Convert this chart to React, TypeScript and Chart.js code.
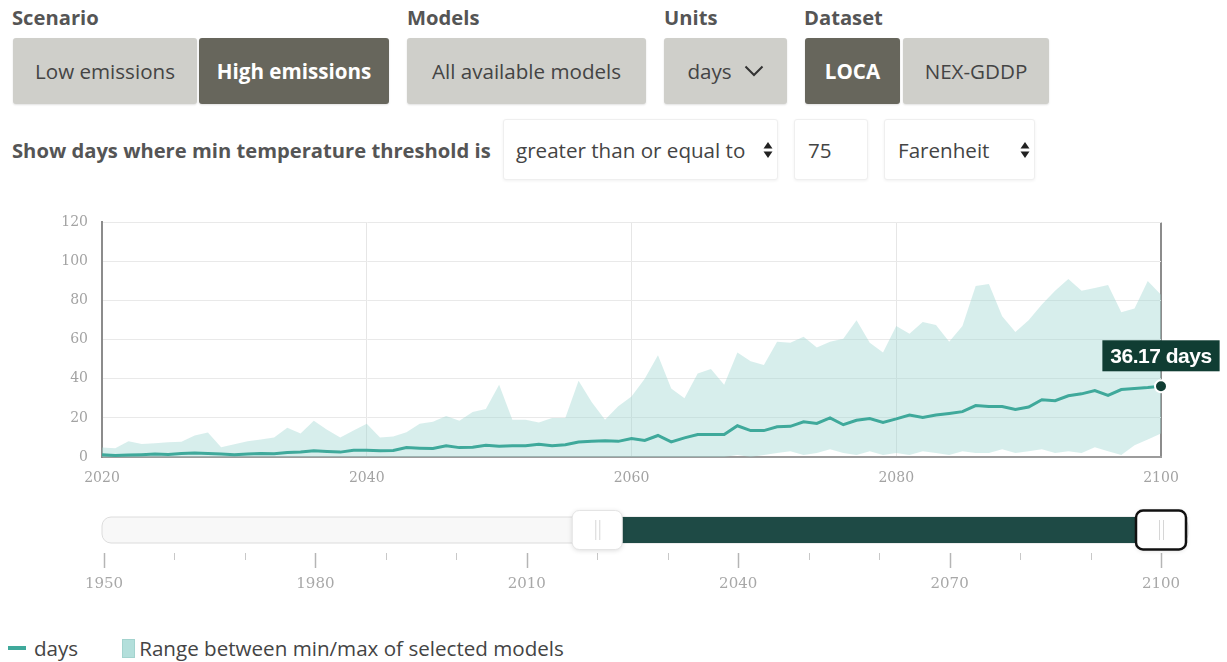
import React, { useEffect, useRef } from "react";
import { Chart, registerables } from "chart.js";

Chart.register(...registerables);

// ---------- data ----------
const years = [
  2020, 2021, 2022, 2023, 2024, 2025, 2026, 2027, 2028, 2029,
  2030, 2031, 2032, 2033, 2034, 2035, 2036, 2037, 2038, 2039,
  2040, 2041, 2042, 2043, 2044, 2045, 2046, 2047, 2048, 2049,
  2050, 2051, 2052, 2053, 2054, 2055, 2056, 2057, 2058, 2059,
  2060, 2061, 2062, 2063, 2064, 2065, 2066, 2067, 2068, 2069,
  2070, 2071, 2072, 2073, 2074, 2075, 2076, 2077, 2078, 2079,
  2080, 2081, 2082, 2083, 2084, 2085, 2086, 2087, 2088, 2089,
  2090, 2091, 2092, 2093, 2094, 2095, 2096, 2097, 2098, 2099,
  2100,
];

const meanDays = [
  1.2, 0.8, 1.0, 1.2, 1.5, 1.3, 1.8, 2.0, 1.8, 1.5,
  1.2, 1.5, 1.8, 1.7, 2.3, 2.5, 3.2, 2.8, 2.5, 3.5,
  3.5, 3.2, 3.3, 4.8, 4.5, 4.3, 5.7, 4.8, 5.0, 6.0,
  5.5, 5.8, 5.7, 6.5, 5.7, 6.3, 7.7, 8.0, 8.3, 8.0,
  9.5, 8.5, 11.0, 7.7, 9.8, 11.5, 11.5, 11.5, 16.0, 13.5,
  13.5, 15.5, 15.7, 18.0, 17.2, 20.0, 16.5, 18.8, 19.7, 17.7,
  19.5, 21.5, 20.2, 21.5, 22.3, 23.2, 26.3, 25.8, 25.8, 24.3,
  25.6, 29.3, 28.8, 31.3, 32.3, 34.0, 31.5, 34.5, 35.0, 35.5,
  36.17,
];

const maxDays = [
  4.8, 4.5, 8, 6.7, 7, 7.5, 7.8, 11, 12.5, 5,
  6.5, 8, 9, 10, 15, 12, 18.5, 14, 10, 13.5,
  17, 10, 10.5, 12.7, 17, 18, 21, 18.5, 23, 24.5,
  37, 19, 19, 17.7, 20, 20, 39, 28, 19, 26,
  31, 40, 52, 35, 30, 42.7, 45, 37, 53.5, 49,
  47, 59, 58.5, 61.5, 56, 59, 60.5, 70, 58.5, 53.5,
  67, 63, 69, 67.5, 59, 67, 87.5, 88.5, 72, 64,
  70, 78, 85, 91, 85, 86.5, 88, 74, 76, 90,
  83,
];

const minDays = [
  0, 0, 0, 0, 0, 0, 0, 0, 0, 0,
  0, 0, 0, 0, 0, 0, 0, 0, 0, 0,
  0, 0, 0, 0, 0, 0, 0, 0, 0, 0,
  0, 0, 0, 0, 0, 0, 0, 0, 0, 0,
  0, 0, 0, 0, 0, 0, 0, 0, 1, 0,
  1, 2, 3, 1, 2, 4, 2, 1, 3, 1,
  2, 1, 3, 2, 1, 3, 2, 2, 4, 2,
  3, 4, 2, 3, 2, 5, 3, 1, 6, 9,
  12,
];

const yTickMin = 0;
const yTickMax = 120;
const yTickStep = 20;
const xTickStep = 20;

const sliderDomain = [1950, 2100];
const sliderRange = [2020, 2100];
const sliderStep = 10;
const sliderLabelEvery = 30;

const unitLabel = "days";
const seriesLabel = "days";
const rangeLabel = "Range between min/max of selected models";

// ---------- styles ----------
const UI_FONT = '"Open Sans", "Noto Sans", sans-serif';
const UI_SIZE = 20.6;
const TICK_FONT = '"DejaVu Serif", serif';
const LINE_COLOR = "#3fa99b";
const FILL_COLOR = "rgba(160,214,209,0.42)";
const DARK_GREEN = "#103d33";

const lightBtn = "#cfcfca";
const darkBtn = "#67665c";

function Box(props: any) {
  const { x, y, w, h, bg, color, weight, children, align, pad, border } = props;
  return (
    <div
      style={{
        position: "absolute",
        left: x,
        top: y,
        width: w,
        height: h,
        background: bg,
        color: color || "#444",
        fontWeight: weight || 500,
        display: "flex",
        alignItems: "center",
        justifyContent: align || "center",
        paddingLeft: pad || 0,
        boxSizing: "border-box",
        borderRadius: 3,
        border: border || "none",
        boxShadow: border ? "0 1px 3px rgba(0,0,0,0.06)" : "0 1px 2px rgba(0,0,0,0.12)",
        fontSize: UI_SIZE,
        whiteSpace: "nowrap",
      }}
    >
      {children}
    </div>
  );
}

function Arrows({ x }: { x: number }) {
  return (
    <svg
      width="10"
      height="18"
      viewBox="0 0 10 18"
      style={{ position: "absolute", left: x, top: "50%", marginTop: -9 }}
    >
      <polygon points="5,1 9.5,7.5 0.5,7.5" fill="#222" />
      <polygon points="5,17 9.5,10.5 0.5,10.5" fill="#222" />
    </svg>
  );
}

function Label({ x, text }: { x: number; text: string }) {
  return (
    <div
      style={{
        position: "absolute",
        left: x,
        top: 3,
        fontSize: 20.2,
        fontWeight: 700,
        color: "#555",
        whiteSpace: "nowrap",
      }}
    >
      {text}
    </div>
  );
}

export default function App() {
  const mainRef = useRef<HTMLCanvasElement | null>(null);
  const sliderRef = useRef<HTMLCanvasElement | null>(null);

  useEffect(() => {
    const lastIdx = meanDays.length - 1;
    const pointRadii = meanDays.map((_, i) => (i === lastIdx ? 6 : 0));

    const lastLabelPlugin = {
      id: "lastLabel",
      afterDatasetsDraw(chart: any) {
        const meta = chart.getDatasetMeta(2);
        const pt = meta.data[meta.data.length - 1];
        if (!pt) return;
        const ctx = chart.ctx;
        const text = `${meanDays[lastIdx].toFixed(2)} ${unitLabel}`;
        ctx.save();
        ctx.font = 'bold 21px "Liberation Sans", Arial, sans-serif';
        try {
          (ctx as any).letterSpacing = "-0.5px";
        } catch (e) {}
        const w = ctx.measureText(text).width + 16;
        const h = 31;
        const bx = pt.x - w / 2;
        const by = pt.y - 15 - h;
        ctx.fillStyle = DARK_GREEN;
        ctx.fillRect(bx, by, w, h);
        ctx.fillStyle = "#ffffff";
        ctx.textAlign = "center";
        ctx.textBaseline = "middle";
        ctx.fillText(text, pt.x, by + h / 2 + 1);
        ctx.restore();
      },
    };

    const toPts = (arr: number[]) => arr.map((v, i) => ({ x: years[i], y: v }));

    const main = new Chart(mainRef.current as HTMLCanvasElement, {
      type: "line",
      data: {
        datasets: [
          {
            label: rangeLabel,
            data: toPts(maxDays),
            borderWidth: 0,
            borderColor: "rgba(0,0,0,0)",
            backgroundColor: FILL_COLOR,
            pointRadius: 0,
            fill: "+1",
            tension: 0,
            order: 2,
          },
          {
            label: "min",
            data: toPts(minDays),
            borderWidth: 0,
            borderColor: "rgba(0,0,0,0)",
            pointRadius: 0,
            fill: false,
            order: 3,
          },
          {
            label: seriesLabel,
            data: toPts(meanDays),
            borderColor: LINE_COLOR,
            borderWidth: 3,
            pointRadius: pointRadii,
            pointBackgroundColor: DARK_GREEN,
            pointBorderColor: "#ffffff",
            pointBorderWidth: 2,
            fill: false,
            tension: 0,
            clip: false,
            order: 0,
          } as any,
        ],
      },
      options: {
        animation: false,
        responsive: false,
        maintainAspectRatio: false,
        events: [],
        layout: { padding: { top: 13, right: 66, left: 0, bottom: 0 } },
        plugins: {
          legend: { display: false },
          tooltip: { enabled: false },
        },
        scales: {
          x: {
            type: "linear",
            min: sliderRange[0],
            max: sliderRange[1],
            ticks: {
              stepSize: xTickStep,
              color: "#a3a3a3",
              font: { family: TICK_FONT, size: 14 },
              padding: 13,
              maxRotation: 0,
              callback: (v: any) => String(v),
            },
            grid: {
              drawTicks: false,
              color: (c: any) => (c.tick && c.tick.value === sliderRange[1] ? "#8c8c8c" : "#e6e6e6"),
              lineWidth: (c: any) => (c.tick && c.tick.value === sliderRange[1] ? 2 : 1),
            },
            border: { display: true, color: "#9c9c9c", width: 2 },
            afterFit: (s: any) => {
              s.height = 43;
            },
          },
          y: {
            min: yTickMin,
            max: yTickMax,
            ticks: {
              stepSize: yTickStep,
              color: "#a3a3a3",
              font: { family: TICK_FONT, size: 14 },
              padding: 14,
              callback: (v: any) => String(v),
            },
            grid: { drawTicks: false, color: "#e9e9e9" },
            border: { display: true, color: "#8c8c8c", width: 2 },
            afterFit: (s: any) => {
              s.width = 102;
            },
          },
        },
      } as any,
      plugins: [lastLabelPlugin],
    });

    const sliderPlugin = {
      id: "rangeSlider",
      afterDraw(chart: any) {
        const ctx = chart.ctx;
        const sx = chart.scales.x;
        const area = chart.chartArea;
        const cy = (area.top + area.bottom) / 2;
        const xs = sx.getPixelForValue(sliderDomain[0]);
        const xe = sx.getPixelForValue(sliderDomain[1]);
        const a = sx.getPixelForValue(sliderRange[0]);
        const b = sx.getPixelForValue(sliderRange[1]);
        const hw = 25;
        const hh = 19.5;
        const th = 13;
        ctx.save();
        ctx.beginPath();
        ctx.roundRect(xs - 2, cy - th, xe + hw + 2 - (xs - 2), th * 2, 9);
        ctx.fillStyle = "#f8f8f8";
        ctx.fill();
        ctx.strokeStyle = "#dcdcdc";
        ctx.lineWidth = 1;
        ctx.stroke();
        ctx.fillStyle = "#1e4a45";
        ctx.fillRect(a + hw - 2, cy - th, b - hw - (a + hw - 2) + 2, th * 2);
        sx.ticks.forEach((t: any) => {
          const x = Math.round(sx.getPixelForValue(t.value)) + 0.5;
          const major = (t.value - sliderDomain[0]) % sliderLabelEvery === 0;
          ctx.beginPath();
          ctx.moveTo(x, area.bottom);
          ctx.lineTo(x, area.bottom + (major ? 15 : 7));
          ctx.strokeStyle = major ? "#b5b5b5" : "#c8c8c8";
          ctx.lineWidth = major ? 1.5 : 1;
          ctx.stroke();
        });
        const drawHandle = (cx: number, dark: boolean) => {
          ctx.save();
          ctx.beginPath();
          ctx.roundRect(cx - hw, cy - hh, hw * 2, hh * 2, 7);
          ctx.shadowColor = "rgba(0,0,0,0.15)";
          ctx.shadowBlur = 5;
          ctx.shadowOffsetY = 1;
          ctx.fillStyle = "#ffffff";
          ctx.fill();
          ctx.shadowColor = "transparent";
          ctx.strokeStyle = dark ? "#111111" : "#e4e4e4";
          ctx.lineWidth = dark ? 2.5 : 1;
          ctx.stroke();
          ctx.strokeStyle = "#d6d6d6";
          ctx.lineWidth = 1;
          [-2, 2].forEach((d) => {
            ctx.beginPath();
            ctx.moveTo(cx + d + 0.5, cy - 10);
            ctx.lineTo(cx + d + 0.5, cy + 10);
            ctx.stroke();
          });
          ctx.restore();
        };
        drawHandle(a, false);
        drawHandle(b, true);
        ctx.restore();
      },
    };

    const slider = new Chart(sliderRef.current as HTMLCanvasElement, {
      type: "scatter",
      data: { datasets: [{ data: [] }] },
      options: {
        animation: false,
        responsive: false,
        maintainAspectRatio: false,
        events: [],
        layout: { padding: { top: 12, right: 66, left: 104, bottom: 0 } },
        plugins: { legend: { display: false }, tooltip: { enabled: false } },
        scales: {
          x: {
            type: "linear",
            min: sliderDomain[0],
            max: sliderDomain[1],
            ticks: {
              stepSize: sliderStep,
              autoSkip: false,
              maxRotation: 0,
              padding: 22,
              color: "#a8a8a8",
              font: { family: TICK_FONT, size: 15 },
              callback: (v: any) =>
                (v - sliderDomain[0]) % sliderLabelEvery === 0 ? String(v) : "",
            },
            grid: { display: false, drawTicks: false },
            border: { display: false },
            afterFit: (s: any) => {
              s.height = 52;
            },
          },
          y: { display: false, min: 0, max: 1 },
        },
      } as any,
      plugins: [sliderPlugin],
    });

    return () => {
      main.destroy();
      slider.destroy();
    };
  }, []);

  return (
    <div
      style={{
        position: "absolute",
        left: 0,
        top: 0,
        width: 1227,
        height: 662,
        overflow: "hidden",
        background: "#ffffff",
        fontFamily: UI_FONT,
      }}
    >
      <Label x={12} text="Scenario" />
      <Label x={407} text="Models" />
      <Label x={664} text="Units" />
      <Label x={804} text="Dataset" />

      <Box x={13} y={38} w={184} h={66} bg={lightBtn}>Low emissions</Box>
      <Box x={199} y={38} w={190} h={66} bg={darkBtn} color="#fff" weight={700}>High emissions</Box>
      <Box x={407} y={38} w={239} h={66} bg={lightBtn}>All available models</Box>
      <Box x={664} y={38} w={123} h={66} bg={lightBtn}>
        {unitLabel}
        <svg width="20" height="12" viewBox="0 0 20 12" style={{ marginLeft: 12 }}>
          <polyline points="1.5,1.5 10,10 18.5,1.5" fill="none" stroke="#333" strokeWidth="2" />
        </svg>
      </Box>
      <Box x={805} y={38} w={95} h={66} bg={darkBtn} color="#fff" weight={700}>LOCA</Box>
      <Box x={903} y={38} w={146} h={66} bg={lightBtn}>NEX-GDDP</Box>

      <div
        style={{
          position: "absolute",
          left: 12,
          top: 136,
          fontSize: 20.2,
          fontWeight: 700,
          color: "#555",
          whiteSpace: "nowrap",
        }}
      >
        Show days where min temperature threshold is
      </div>
      <Box x={503} y={119} w={275} h={61} bg="#fff" align="flex-start" pad={12} weight={400} border="1px solid #efefef">
        greater than or equal to
        <Arrows x={259} />
      </Box>
      <Box x={794} y={119} w={74} h={61} bg="#fff" align="flex-start" pad={13} weight={400} border="1px solid #efefef">
        75
      </Box>
      <Box x={884} y={119} w={151} h={61} bg="#fff" align="flex-start" pad={13} weight={400} border="1px solid #efefef">
        Farenheit
        <Arrows x={135} />
      </Box>

      <canvas
        ref={mainRef}
        width={1227}
        height={300}
        style={{ position: "absolute", left: 0, top: 200, width: 1227, height: 300, display: "block" }}
      />
      <canvas
        ref={sliderRef}
        width={1227}
        height={110}
        style={{ position: "absolute", left: 0, top: 495, width: 1227, height: 110, display: "block" }}
      />

      <div
        style={{
          position: "absolute",
          left: 8,
          top: 633,
          height: 30,
          display: "flex",
          alignItems: "center",
          fontSize: UI_SIZE,
          color: "#444",
          whiteSpace: "nowrap",
        }}
      >
        <span style={{ display: "inline-block", width: 18, height: 4, background: LINE_COLOR, marginRight: 8 }} />
        <span>{seriesLabel}</span>
        <span
          style={{
            display: "inline-block",
            width: 11,
            height: 17,
            background: "#b3dfdb",
            border: "1px solid #a3d3ce",
            marginLeft: 44,
            marginRight: 4,
          }}
        />
        <span>{rangeLabel}</span>
      </div>
    </div>
  );
}
